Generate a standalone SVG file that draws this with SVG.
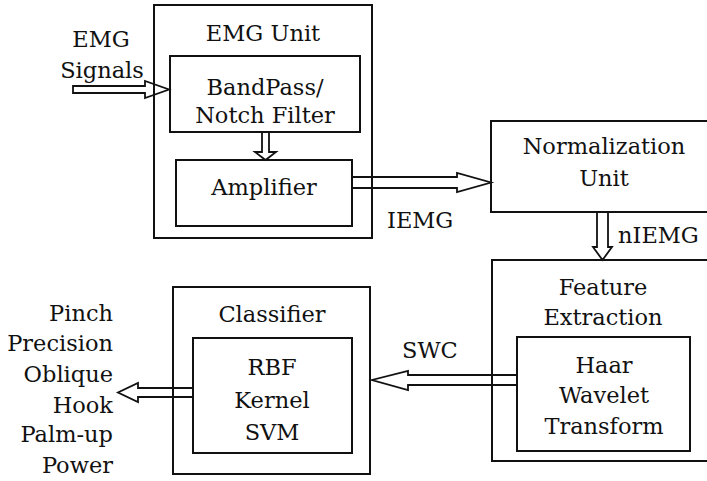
<svg xmlns="http://www.w3.org/2000/svg" width="707" height="481" viewBox="0 0 707 481">
<style>
.box{fill:none;stroke:#111;stroke-width:2}
.arr{fill:none;stroke:#111;stroke-width:1.8;stroke-linejoin:miter}
text{font-family:'DejaVu Serif','Liberation Serif',serif;font-size:22.5px;fill:#111}
.c{text-anchor:middle}
.r{text-anchor:end}
</style>
<rect width="707" height="481" fill="#fff"/>
<g id="connectors">
<polygon class="arr" points="73,86 145,86 145,81 169,89.5 145,98 145,93 73,93"/>
<polygon class="arr" points="262,132 262,152 255,152 265.5,160 276,152 269,152 269,132"/>
<polygon class="arr" points="352,177 457,177 457,173 491,182.5 457,192 457,188 352,188"/>
<polygon class="arr" points="597,212 597,247 593,247 602.5,260 612,247 608,247 608,212"/>
<polygon class="arr" points="517,375 408,375 408,371 372,380 408,390 408,385 517,385"/>
<polygon class="arr" points="193,388 138,388 138,383 118,392.5 138,402 138,397 193,397"/>
</g>
<g id="input-label">
<text class="c" x="101" y="47">EMG</text>
<text class="c" x="102" y="78">Signals</text>
</g>
<g id="emg-unit">
<rect class="box" x="154" y="5" width="218" height="233"/>
<text class="c" x="263" y="41">EMG Unit</text>
</g>
<g id="filter">
<rect class="box" x="170" y="56" width="190" height="76"/>
<text class="c" x="265" y="95">BandPass/</text>
<text class="c" x="265" y="123">Notch Filter</text>
</g>
<g id="amplifier">
<rect class="box" x="176" y="160" width="176" height="66"/>
<text class="c" x="264" y="195">Amplifier</text>
</g>
<g id="iemg-label"><text x="387" y="228">IEMG</text></g>
<g id="normalization">
<rect class="box" x="491" y="121" width="221" height="91"/>
<text class="c" x="604" y="154">Normalization</text>
<text class="c" x="604" y="186">Unit</text>
</g>
<g id="niemg-label"><text x="618" y="243">nIEMG</text></g>
<g id="feature-extraction">
<rect class="box" x="492" y="260" width="220" height="201"/>
<text class="c" x="603" y="295">Feature</text>
<text class="c" x="603" y="325">Extraction</text>
</g>
<g id="haar">
<rect class="box" x="517" y="337" width="173" height="114"/>
<text class="c" x="604" y="373">Haar</text>
<text class="c" x="604" y="403">Wavelet</text>
<text class="c" x="604" y="434">Transform</text>
</g>
<g id="swc-label"><text x="402" y="358">SWC</text></g>
<g id="classifier">
<rect class="box" x="173" y="287" width="197" height="187"/>
<text class="c" x="272" y="322">Classifier</text>
</g>
<g id="svm">
<rect class="box" x="193" y="338" width="159" height="115"/>
<text class="c" x="272" y="375">RBF</text>
<text class="c" x="272" y="408">Kernel</text>
<text class="c" x="272" y="440">SVM</text>
</g>
<g id="outputs">
<text class="r" x="113" y="321">Pinch</text>
<text class="r" x="113" y="351">Precision</text>
<text class="r" x="113" y="382">Oblique</text>
<text class="r" x="113" y="413">Hook</text>
<text class="r" x="113" y="442">Palm-up</text>
<text class="r" x="113" y="473">Power</text>
</g>
</svg>
